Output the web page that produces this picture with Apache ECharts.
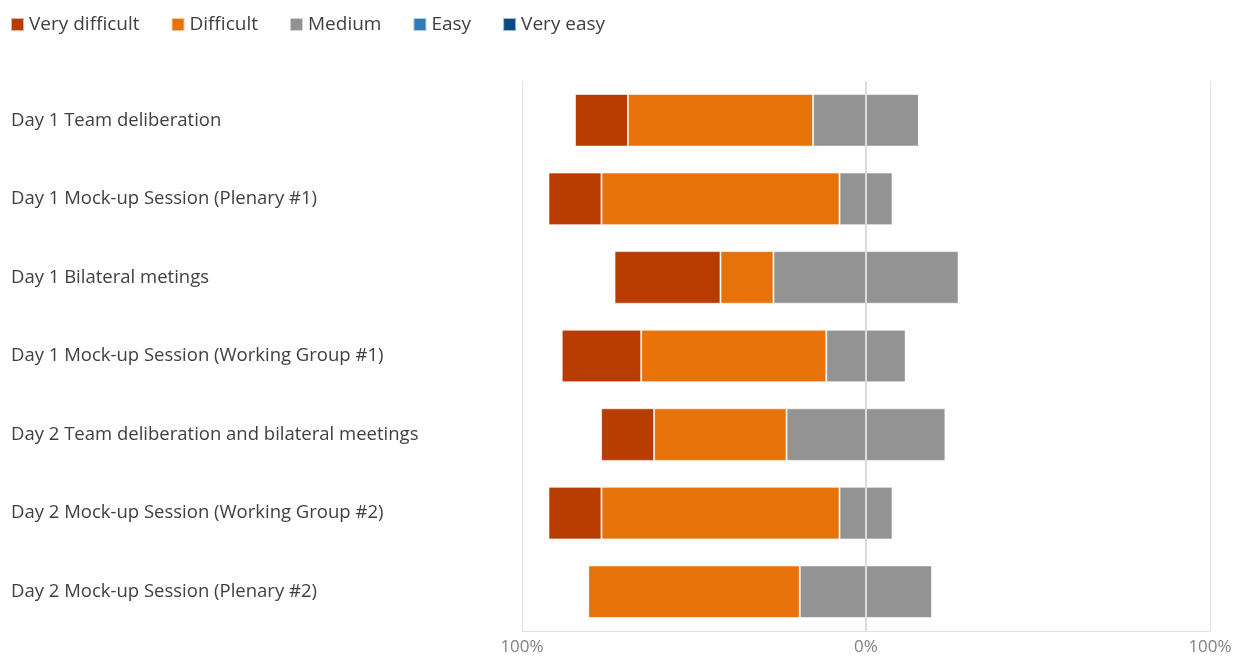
<!DOCTYPE html>
<html>
<head>
<meta charset="utf-8">
<script src="https://cdn.jsdelivr.net/npm/echarts@6/dist/echarts.min.js"></script>
<style>
  html, body { margin: 0; padding: 0; background: #fff; }
  #chart { width: 1236px; height: 657px; }
</style>
</head>
<body>
<div id="chart"></div>
<script>
  // categories, top to bottom
  var categories = [
    'Day 1 Team deliberation',
    'Day 1 Mock-up Session (Plenary #1)',
    'Day 1 Bilateral metings',
    'Day 1 Mock-up Session (Working Group #1)',
    'Day 2 Team deliberation and bilateral meetings',
    'Day 2 Mock-up Session (Working Group #2)',
    'Day 2 Mock-up Session (Plenary #2)'
  ];

  // shares in percent (13 respondents per session)
  var veryDifficult = [15.4, 15.4, 30.8, 23.1, 15.4, 15.4, 0];
  var difficult     = [53.8, 69.2, 15.4, 53.8, 38.5, 69.2, 61.5];
  var medium        = [30.8, 15.4, 53.8, 23.1, 46.2, 15.4, 38.5];
  var easy          = [0, 0, 0, 0, 0, 0, 0];
  var veryEasy      = [0, 0, 0, 0, 0, 0, 0];

  var xTicks = ['100%', '0%', '100%'];

  var colors = {
    veryDifficult: '#b83b00',
    difficult: '#e8720a',
    medium: '#939393',
    easy: '#2e7cb8',
    veryEasy: '#0b4a86'
  };

  var font = '"Open Sans", "Noto Sans", sans-serif';

  function neg(arr) {
    return arr.map(function(v) { return -v; });
  }
  function half(arr, sign) {
    return arr.map(function(v) { return sign * v / 2; });
  }

  var barStyle = { borderColor: 'rgba(255,255,255,0.6)', borderWidth: 1 };

  function bar(name, data, color, extra) {
    var s = {
      name: name,
      type: 'bar',
      stack: 'total',
      barWidth: '67%',
      data: data,
      itemStyle: Object.assign({ color: color }, barStyle),
      emphasis: { disabled: true }
    };
    return Object.assign(s, extra || {});
  }

  var chart = echarts.init(document.getElementById('chart'));
  chart.setOption({
    animation: false,
    textStyle: { fontFamily: font },
    legend: {
      left: 5,
      top: 10,
      itemWidth: 13,
      itemHeight: 13,
      itemGap: 31,
      icon: 'rect',
      textStyle: { fontSize: 19, color: '#404040', fontFamily: font },
      data: ['Very difficult', 'Difficult', 'Medium', 'Easy', 'Very easy']
    },
    grid: {
      left: 522,
      right: 26,
      top: 81,
      bottom: 26
    },
    xAxis: {
      type: 'value',
      min: -100,
      max: 100,
      interval: 100,
      axisLine: { show: true, lineStyle: { color: '#e0e0e0' } },
      axisTick: { show: false },
      splitLine: { show: true, lineStyle: { color: '#e0e0e0', width: 1 } },
      axisLabel: {
        color: '#808080',
        fontSize: 17,
        margin: 8,
        fontFamily: font,
        formatter: function(v) {
          return xTicks[Math.round((v + 100) / 100)];
        }
      }
    },
    yAxis: {
      type: 'category',
      inverse: true,
      data: categories,
      axisLine: { show: false },
      axisTick: { show: false },
      axisLabel: {
        align: 'left',
        margin: 511,
        color: '#404040',
        fontSize: 18.5,
        padding: [4, 0, 0, 0],
        fontFamily: font
      }
    },
    series: [
      bar('Medium', half(medium, -1), colors.medium),
      bar('Difficult', neg(difficult), colors.difficult),
      bar('Very difficult', neg(veryDifficult), colors.veryDifficult),
      bar('Medium', half(medium, 1), colors.medium, {
        markLine: {
          silent: true,
          symbol: 'none',
          label: { show: false },
          lineStyle: { color: '#dcdcdc', width: 2, type: 'solid' },
          data: [{ xAxis: 0 }],
          z: 10
        }
      }),
      bar('Easy', easy, colors.easy),
      bar('Very easy', veryEasy, colors.veryEasy)
    ]
  });
</script>
</body>
</html>
